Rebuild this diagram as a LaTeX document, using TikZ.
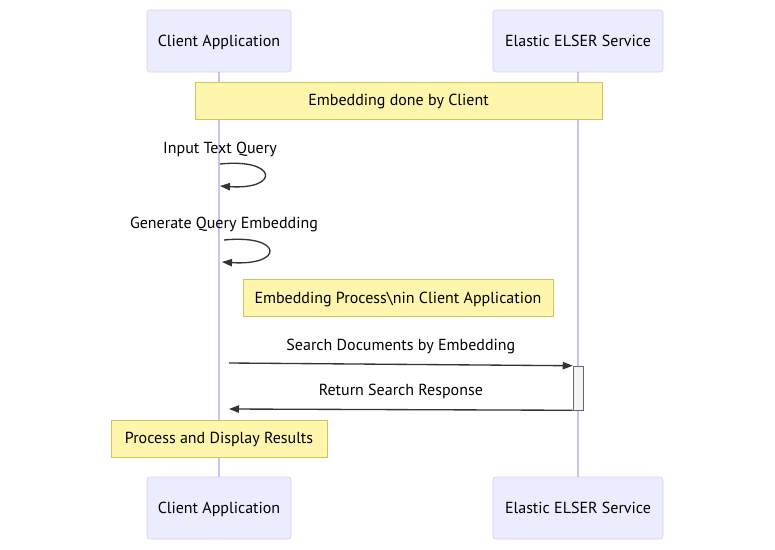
\documentclass[tikz,border=0pt]{standalone}
\usepackage{fontspec}
\setmainfont{PT Sans}
\usetikzlibrary{arrows.meta}
\definecolor{actorFill}{HTML}{ECECFF}
\definecolor{actorLine}{HTML}{D6CCF5}
\definecolor{lifeLine}{HTML}{CDC3F0}
\definecolor{noteFill}{HTML}{FFF5AD}
\definecolor{noteLine}{HTML}{C8C85A}
\definecolor{msgLine}{HTML}{333333}
\begin{document}
\begin{tikzpicture}[x=0.75pt,y=-0.75pt,
        font=\fontsize{12pt}{14pt}\selectfont,
        every node/.style = {text height=9.6pt,text depth=1.8pt},
        actorNode/.style = {draw=actorLine,fill=actorFill,rounded corners=2pt,minimum height=46.5pt,text=black},
        noteNode/.style = {draw=noteLine,fill=noteFill,minimum height=27.75pt,text=black},
        actBox/.style = {draw=gray!80!black,fill=gray!8,minimum width=7.5pt,minimum height=33pt,inner sep=0pt,text height=0pt,text depth=0pt},
        lifeLineStyle/.style = {draw=lifeLine,line width=0.8pt},
        msgArrow/.style = {draw=msgLine,line width=1pt,-{Triangle[length=7.5pt,width=5.5pt]}}
        ]
        \useasboundingbox (0,0) rectangle (775,550);
        % actors
        \node[actorNode,minimum width=108pt] (clientTop) at (219,41) {Client Application};
        \node[actorNode,minimum width=127.5pt] (elserTop) at (578,41) {Elastic ELSER Service};
        \node[actorNode,minimum width=108pt] (clientBot) at (219,508) {Client Application};
        \node[actorNode,minimum width=127.5pt] (elserBot) at (578,508) {Elastic ELSER Service};
        \draw[lifeLineStyle] (clientTop.south) -- (clientBot.north);
        \draw[lifeLineStyle] (elserTop.south) -- (elserBot.north);
        % notes
        \node[noteNode,minimum width=305.25pt] (noteClient) at (398.5,100.5) {Embedding done by Client};
        \node[noteNode,minimum width=232.5pt] (noteProcess) at (398,298) {Embedding Process\textbackslash nin Client Application};
        \node[noteNode,minimum width=162pt] (noteResults) at (219,438.5) {Process and Display Results};
        % self messages
        \coordinate (inStart) at (220,164);
        \coordinate (inEnd) at (220,186);
        \coordinate (genStart) at (224,240);
        \coordinate (genEnd) at (222,262);
        \node (inLabel) at (220,148) {Input Text Query};
        \node (genLabel) at (224,223) {Generate Query Embedding};
        \draw[msgArrow] (inStart) .. controls (278,158) and (280,190) .. (inEnd);
        \draw[msgArrow] (genStart) .. controls (283,234) and (285,266) .. (genEnd);
        % search and response
        \node[actBox] (elserAct) at (578,388) {};
        \coordinate (searchStart) at (229,363);
        \coordinate (respEnd) at (229,409);
        \draw[msgArrow] (searchStart) -- (elserAct.north west) node[midway,above=5pt,text=black] {Search Documents by Embedding};
        \draw[msgArrow] (elserAct.south west) -- (respEnd) node[midway,above=5pt,text=black] {Return Search Response};
\end{tikzpicture}
\end{document}
